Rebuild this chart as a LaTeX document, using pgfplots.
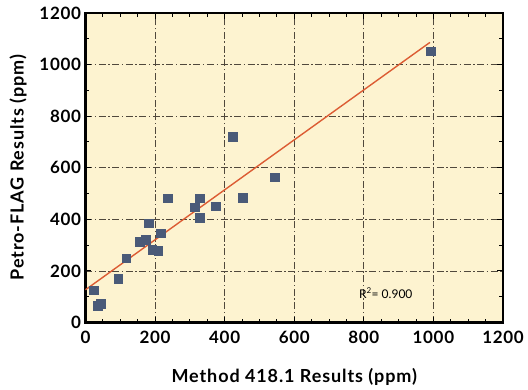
\documentclass[border=0pt]{standalone}
\usepackage{pgfplots}
\pgfplotsset{compat=1.18}
\usepackage{fontspec}
\setmainfont{Lato}
\definecolor{bgy}{RGB}{253,243,208}
\definecolor{mk}{RGB}{74,90,120}
\definecolor{fitc}{RGB}{220,92,52}
\definecolor{gridc}{RGB}{80,72,60}
\begin{document}
\begin{tikzpicture}
\begin{axis}[
  scale only axis,
  width=417.5pt, height=309.5pt,
  xmin=0, xmax=1200, ymin=0, ymax=1200,
  xtick={0,200,...,1200}, ytick={0,200,...,1200},
  minor x tick num=3, minor y tick num=1,
  tick align=inside, ticks=both,
  xtick pos=both, ytick pos=both,
  major tick length=6pt, minor tick length=4pt,
  tick style={black, line width=1pt},
  axis line style={line width=2.2pt},
  axis background/.style={fill=bgy},
  grid=major,
  major grid style={gridc, line width=0.8pt, dash pattern=on 7pt off 2.5pt on 1.5pt off 2.5pt},
  /pgf/number format/assume math mode=true,
  /pgf/number format/1000 sep={},
  ticklabel style={font=\bfseries\fontsize{17}{17}\selectfont\addfontfeatures{LetterSpace=4}},
  xticklabel style={yshift=-5pt},
  yticklabel style={xshift=-1pt},
  xlabel={Method 418.1 Results (ppm)},
  ylabel={Petro-FLAG Results (ppm)},
  label style={font=\bfseries\fontsize{18}{18}\selectfont\addfontfeatures{LetterSpace=5}},
  xlabel style={yshift=-18pt},
  ylabel style={yshift=6pt},
  clip=false,
]
\coordinate (SW) at (rel axis cs:0,0);
\coordinate (NE) at (rel axis cs:1,1);
\addplot[fitc, line width=1.4pt] coordinates {(0,127) (990,1086)};
\addplot[only marks, mark=square*, mark size=4.4pt, mark options={fill=mk, draw=mk}] coordinates {
(24,125) (35,65) (44,74) (94,169) (117,249) (155,312) (172,322) (181,385)
(192,283) (209,277) (217,346) (237,482) (315,447) (328,482) (329,406)
(374,451) (451,483) (544,563) (424,720) (993,1052)
};
\node[font=\fontsize{12}{12}\selectfont, anchor=center] at (axis cs:863,114) {R\textsuperscript{2}= 0.900};
\end{axis}
\pgfresetboundingbox
\path ([shift={(-85.5pt,-66.5pt)}]SW) rectangle ([shift={(25pt,13pt)}]NE);
\end{tikzpicture}
\end{document}
